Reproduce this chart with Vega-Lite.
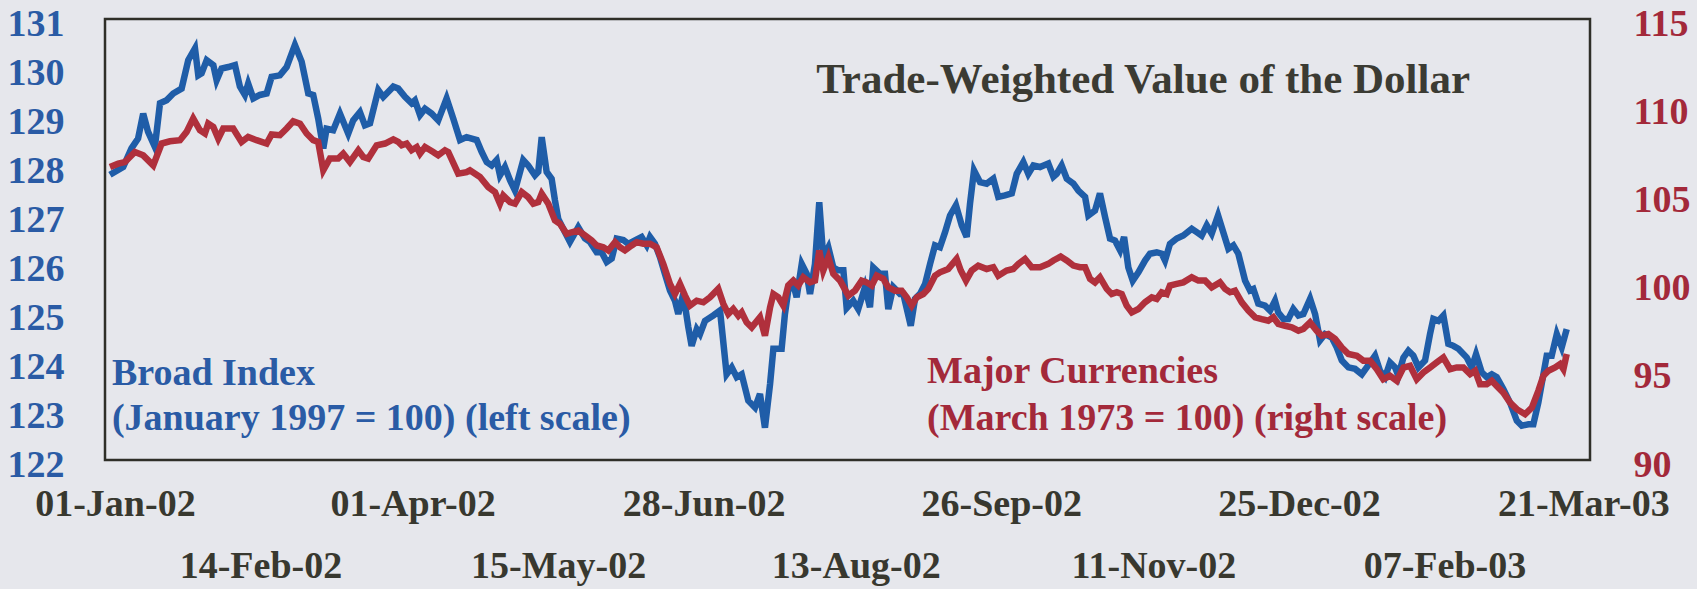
{
"$schema":"https://vega.github.io/schema/vega-lite/v6.json",
"width":1485,"height":441,
"autosize":{"type":"none"},
"padding":{"left":105,"top":19,"right":107,"bottom":129},
"background":"#E6E7EC",
"config":{"view":{"stroke":"#2F2F28","strokeWidth":2.5,"fill":"#E6E7EC"},"axis":{"grid":false}},
"datasets":{
"broad":[
{"date":"2001-12-30T12:00","value":127.82},{"date":"2002-01-03T12:00","value":127.98},{"date":"2002-01-06T00:00","value":128.36},{"date":"2002-01-08T00:00","value":128.56},{"date":"2002-01-09T13:00","value":129.07},{"date":"2002-01-11T00:00","value":128.70},{"date":"2002-01-13T02:00","value":128.39},{"date":"2002-01-14T15:00","value":129.28},{"date":"2002-01-16T15:00","value":129.34},{"date":"2002-01-18T15:00","value":129.48},{"date":"2002-01-21T04:00","value":129.58},{"date":"2002-01-23T04:00","value":130.16},{"date":"2002-01-25T05:00","value":130.40},{"date":"2002-01-26T05:00","value":129.85},{"date":"2002-01-27T05:00","value":129.89},{"date":"2002-01-28T18:00","value":130.16},{"date":"2002-01-30T18:00","value":130.06},{"date":"2002-01-31T18:00","value":129.75},{"date":"2002-02-02T06:00","value":129.99},{"date":"2002-02-04T06:00","value":130.02},{"date":"2002-02-06T07:00","value":130.06},{"date":"2002-02-07T19:00","value":129.62},{"date":"2002-02-09T07:00","value":129.45},{"date":"2002-02-10T07:00","value":129.68},{"date":"2002-02-11T20:00","value":129.38},{"date":"2002-02-13T20:00","value":129.45},{"date":"2002-02-15T21:00","value":129.48},{"date":"2002-02-17T09:00","value":129.82},{"date":"2002-02-19T21:00","value":129.85},{"date":"2002-02-21T22:00","value":130.02},{"date":"2002-02-24T10:00","value":130.47},{"date":"2002-02-26T11:00","value":130.13},{"date":"2002-02-28T11:00","value":129.48},{"date":"2002-03-01T23:00","value":129.45},{"date":"2002-03-03T11:00","value":128.97},{"date":"2002-03-05T00:00","value":128.36},{"date":"2002-03-06T00:00","value":128.76},{"date":"2002-03-08T00:00","value":128.73},{"date":"2002-03-10T01:00","value":129.07},{"date":"2002-03-12T13:00","value":128.66},{"date":"2002-03-14T01:00","value":128.93},{"date":"2002-03-16T02:00","value":129.10},{"date":"2002-03-17T14:00","value":128.83},{"date":"2002-03-19T03:00","value":128.87},{"date":"2002-03-21T15:00","value":129.55},{"date":"2002-03-23T03:00","value":129.41},{"date":"2002-03-26T04:00","value":129.62},{"date":"2002-03-27T16:00","value":129.58},{"date":"2002-03-29T17:00","value":129.41},{"date":"2002-03-31T17:00","value":129.28},{"date":"2002-04-01T17:00","value":129.34},{"date":"2002-04-03T06:00","value":129.04},{"date":"2002-04-04T18:00","value":129.17},{"date":"2002-04-06T18:00","value":129.07},{"date":"2002-04-08T18:00","value":128.93},{"date":"2002-04-11T07:00","value":129.38},{"date":"2002-04-13T07:00","value":128.97},{"date":"2002-04-15T08:00","value":128.53},{"date":"2002-04-17T08:00","value":128.59},{"date":"2002-04-20T09:00","value":128.53},{"date":"2002-04-21T21:00","value":128.29},{"date":"2002-04-23T10:00","value":128.08},{"date":"2002-04-24T22:00","value":128.01},{"date":"2002-04-26T10:00","value":128.12},{"date":"2002-04-27T10:00","value":127.81},{"date":"2002-04-28T22:00","value":127.98},{"date":"2002-04-30T11:00","value":127.71},{"date":"2002-05-01T23:00","value":127.50},{"date":"2002-05-04T11:00","value":128.12},{"date":"2002-05-05T23:00","value":128.01},{"date":"2002-05-08T00:00","value":127.81},{"date":"2002-05-09T00:00","value":127.88},{"date":"2002-05-10T01:00","value":128.59},{"date":"2002-05-11T13:00","value":127.88},{"date":"2002-05-13T01:00","value":127.74},{"date":"2002-05-14T01:00","value":127.30},{"date":"2002-05-15T01:00","value":126.92},{"date":"2002-05-17T02:00","value":126.65},{"date":"2002-05-18T14:00","value":126.45},{"date":"2002-05-21T02:00","value":126.75},{"date":"2002-05-23T03:00","value":126.52},{"date":"2002-05-24T15:00","value":126.45},{"date":"2002-05-26T16:00","value":126.24},{"date":"2002-05-28T04:00","value":126.24},{"date":"2002-05-29T17:00","value":126.04},{"date":"2002-05-31T05:00","value":126.11},{"date":"2002-06-01T17:00","value":126.52},{"date":"2002-06-03T17:00","value":126.49},{"date":"2002-06-05T05:00","value":126.41},{"date":"2002-06-07T06:00","value":126.48},{"date":"2002-06-09T06:00","value":126.55},{"date":"2002-06-10T19:00","value":126.38},{"date":"2002-06-11T19:00","value":126.55},{"date":"2002-06-13T07:00","value":126.41},{"date":"2002-06-14T19:00","value":126.14},{"date":"2002-06-16T07:00","value":125.80},{"date":"2002-06-17T20:00","value":125.46},{"date":"2002-06-19T08:00","value":125.25},{"date":"2002-06-20T08:00","value":124.98},{"date":"2002-06-21T20:00","value":125.39},{"date":"2002-06-23T09:00","value":124.71},{"date":"2002-06-24T09:00","value":124.33},{"date":"2002-06-25T22:00","value":124.67},{"date":"2002-06-26T22:00","value":124.57},{"date":"2002-06-28T10:00","value":124.84},{"date":"2002-06-30T22:00","value":124.95},{"date":"2002-07-02T23:00","value":125.05},{"date":"2002-07-04T23:00","value":123.75},{"date":"2002-07-06T12:00","value":123.89},{"date":"2002-07-08T00:00","value":123.69},{"date":"2002-07-09T12:00","value":123.75},{"date":"2002-07-11T12:00","value":123.21},{"date":"2002-07-13T13:00","value":123.07},{"date":"2002-07-15T01:00","value":123.35},{"date":"2002-07-16T13:00","value":122.66},{"date":"2002-07-18T02:00","value":123.55},{"date":"2002-07-19T02:00","value":124.27},{"date":"2002-07-21T14:00","value":124.27},{"date":"2002-07-22T14:00","value":124.98},{"date":"2002-07-23T14:00","value":125.46},{"date":"2002-07-25T03:00","value":125.59},{"date":"2002-07-26T03:00","value":125.32},{"date":"2002-07-27T16:00","value":126.00},{"date":"2002-07-29T04:00","value":125.80},{"date":"2002-07-30T04:00","value":125.39},{"date":"2002-07-31T16:00","value":126.00},{"date":"2002-08-01T23:00","value":127.26},{"date":"2002-08-03T04:00","value":126.14},{"date":"2002-08-04T17:00","value":126.34},{"date":"2002-08-06T05:00","value":125.93},{"date":"2002-08-07T17:00","value":125.87},{"date":"2002-08-09T06:00","value":125.87},{"date":"2002-08-10T06:00","value":125.10},{"date":"2002-08-12T06:00","value":125.25},{"date":"2002-08-13T18:00","value":125.08},{"date":"2002-08-15T19:00","value":125.53},{"date":"2002-08-17T07:00","value":125.12},{"date":"2002-08-18T07:00","value":125.93},{"date":"2002-08-20T08:00","value":125.80},{"date":"2002-08-21T20:00","value":125.80},{"date":"2002-08-22T20:00","value":125.08},{"date":"2002-08-24T08:00","value":125.53},{"date":"2002-08-26T09:00","value":125.39},{"date":"2002-08-27T09:00","value":125.39},{"date":"2002-08-29T15:00","value":124.74},{"date":"2002-08-30T22:00","value":125.29},{"date":"2002-09-01T10:00","value":125.39},{"date":"2002-09-02T23:00","value":125.59},{"date":"2002-09-04T11:00","value":126.00},{"date":"2002-09-05T23:00","value":126.38},{"date":"2002-09-07T11:00","value":126.34},{"date":"2002-09-09T00:00","value":126.65},{"date":"2002-09-10T12:00","value":126.99},{"date":"2002-09-12T07:00","value":127.20},{"date":"2002-09-14T01:00","value":126.79},{"date":"2002-09-15T13:00","value":126.55},{"date":"2002-09-16T13:00","value":127.23},{"date":"2002-09-17T18:00","value":127.91},{"date":"2002-09-19T14:00","value":127.67},{"date":"2002-09-21T14:00","value":127.64},{"date":"2002-09-23T14:00","value":127.74},{"date":"2002-09-25T02:00","value":127.37},{"date":"2002-09-27T03:00","value":127.40},{"date":"2002-09-29T04:00","value":127.44},{"date":"2002-09-30T16:00","value":127.84},{"date":"2002-10-02T16:00","value":128.08},{"date":"2002-10-04T04:00","value":127.84},{"date":"2002-10-05T17:00","value":128.01},{"date":"2002-10-07T17:00","value":127.98},{"date":"2002-10-10T05:00","value":128.05},{"date":"2002-10-11T18:00","value":127.78},{"date":"2002-10-12T18:00","value":127.84},{"date":"2002-10-14T06:00","value":128.01},{"date":"2002-10-15T19:00","value":127.74},{"date":"2002-10-17T19:00","value":127.64},{"date":"2002-10-19T07:00","value":127.50},{"date":"2002-10-21T08:00","value":127.37},{"date":"2002-10-22T08:00","value":126.99},{"date":"2002-10-24T08:00","value":127.09},{"date":"2002-10-25T20:00","value":127.44},{"date":"2002-10-27T09:00","value":126.96},{"date":"2002-10-28T21:00","value":126.52},{"date":"2002-10-30T09:00","value":126.48},{"date":"2002-10-31T22:00","value":126.28},{"date":"2002-11-02T03:00","value":126.55},{"date":"2002-11-03T10:00","value":125.93},{"date":"2002-11-04T18:00","value":125.66},{"date":"2002-11-06T11:00","value":125.83},{"date":"2002-11-08T11:00","value":126.07},{"date":"2002-11-09T23:00","value":126.21},{"date":"2002-11-12T00:00","value":126.24},{"date":"2002-11-13T12:00","value":126.21},{"date":"2002-11-14T12:00","value":126.07},{"date":"2002-11-16T00:00","value":126.41},{"date":"2002-11-18T01:00","value":126.52},{"date":"2002-11-20T01:00","value":126.58},{"date":"2002-11-22T14:00","value":126.72},{"date":"2002-11-24T02:00","value":126.65},{"date":"2002-11-25T14:00","value":126.58},{"date":"2002-11-27T03:00","value":126.79},{"date":"2002-11-28T15:00","value":126.62},{"date":"2002-11-30T13:00","value":126.99},{"date":"2002-12-03T16:00","value":126.31},{"date":"2002-12-05T04:00","value":126.38},{"date":"2002-12-06T16:00","value":126.21},{"date":"2002-12-08T17:00","value":125.66},{"date":"2002-12-10T05:00","value":125.46},{"date":"2002-12-11T05:00","value":125.49},{"date":"2002-12-12T17:00","value":125.19},{"date":"2002-12-14T18:00","value":125.15},{"date":"2002-12-16T06:00","value":125.05},{"date":"2002-12-17T18:00","value":125.25},{"date":"2002-12-18T18:00","value":125.01},{"date":"2002-12-20T07:00","value":124.88},{"date":"2002-12-21T19:00","value":124.88},{"date":"2002-12-23T07:00","value":125.08},{"date":"2002-12-24T20:00","value":124.95},{"date":"2002-12-26T08:00","value":124.98},{"date":"2002-12-28T09:00","value":125.29},{"date":"2002-12-29T21:00","value":124.98},{"date":"2002-12-31T09:00","value":124.44},{"date":"2003-01-01T21:00","value":124.57},{"date":"2003-01-03T22:00","value":124.50},{"date":"2003-01-05T10:00","value":124.30},{"date":"2003-01-06T23:00","value":124.03},{"date":"2003-01-08T23:00","value":123.89},{"date":"2003-01-10T23:00","value":123.86},{"date":"2003-01-13T00:00","value":123.75},{"date":"2003-01-14T12:00","value":123.89},{"date":"2003-01-17T00:00","value":124.13},{"date":"2003-01-18T12:00","value":123.82},{"date":"2003-01-20T01:00","value":123.69},{"date":"2003-01-21T13:00","value":123.99},{"date":"2003-01-23T01:00","value":123.89},{"date":"2003-01-24T01:00","value":123.72},{"date":"2003-01-25T14:00","value":124.09},{"date":"2003-01-27T02:00","value":124.23},{"date":"2003-01-28T14:00","value":124.13},{"date":"2003-01-30T03:00","value":123.89},{"date":"2003-02-01T03:00","value":124.03},{"date":"2003-02-02T15:00","value":124.57},{"date":"2003-02-03T15:00","value":124.88},{"date":"2003-02-05T04:00","value":124.84},{"date":"2003-02-06T16:00","value":124.95},{"date":"2003-02-08T04:00","value":124.37},{"date":"2003-02-09T17:00","value":124.33},{"date":"2003-02-11T05:00","value":124.27},{"date":"2003-02-13T18:00","value":124.09},{"date":"2003-02-15T06:00","value":123.89},{"date":"2003-02-16T13:00","value":124.16},{"date":"2003-02-18T06:00","value":123.79},{"date":"2003-02-19T19:00","value":123.69},{"date":"2003-02-21T07:00","value":123.75},{"date":"2003-02-22T19:00","value":123.69},{"date":"2003-02-24T19:00","value":123.45},{"date":"2003-02-26T20:00","value":123.17},{"date":"2003-02-28T21:00","value":122.80},{"date":"2003-03-02T09:00","value":122.70},{"date":"2003-03-04T09:00","value":122.73},{"date":"2003-03-05T21:00","value":122.73},{"date":"2003-03-07T09:00","value":123.17},{"date":"2003-03-08T22:00","value":123.75},{"date":"2003-03-09T22:00","value":124.13},{"date":"2003-03-11T10:00","value":124.13},{"date":"2003-03-12T23:00","value":124.57},{"date":"2003-03-14T11:00","value":124.30},{"date":"2003-03-15T23:00","value":124.67}
],
"major":[
{"date":"2001-12-30T12:00","value":106.61},{"date":"2002-01-02T00:00","value":106.80},{"date":"2002-01-04T00:00","value":106.89},{"date":"2002-01-07T01:00","value":107.46},{"date":"2002-01-09T13:00","value":107.27},{"date":"2002-01-12T14:00","value":106.70},{"date":"2002-01-15T03:00","value":107.94},{"date":"2002-01-17T15:00","value":108.07},{"date":"2002-01-20T16:00","value":108.13},{"date":"2002-01-22T16:00","value":108.60},{"date":"2002-01-24T16:00","value":109.36},{"date":"2002-01-26T17:00","value":108.69},{"date":"2002-01-28T05:00","value":108.51},{"date":"2002-01-29T05:00","value":109.07},{"date":"2002-01-30T18:00","value":108.88},{"date":"2002-02-01T06:00","value":108.22},{"date":"2002-02-02T18:00","value":108.79},{"date":"2002-02-05T18:00","value":108.79},{"date":"2002-02-08T07:00","value":108.03},{"date":"2002-02-10T07:00","value":108.31},{"date":"2002-02-12T20:00","value":108.13},{"date":"2002-02-15T21:00","value":107.94},{"date":"2002-02-17T09:00","value":108.45},{"date":"2002-02-19T21:00","value":108.41},{"date":"2002-02-21T22:00","value":108.79},{"date":"2002-02-23T22:00","value":109.20},{"date":"2002-02-25T23:00","value":109.07},{"date":"2002-02-27T23:00","value":108.51},{"date":"2002-03-01T23:00","value":108.13},{"date":"2002-03-03T11:00","value":108.03},{"date":"2002-03-05T00:00","value":106.42},{"date":"2002-03-07T00:00","value":107.09},{"date":"2002-03-09T12:00","value":107.09},{"date":"2002-03-11T01:00","value":107.37},{"date":"2002-03-13T01:00","value":106.89},{"date":"2002-03-15T14:00","value":107.56},{"date":"2002-03-17T02:00","value":107.18},{"date":"2002-03-18T14:00","value":107.09},{"date":"2002-03-21T03:00","value":107.84},{"date":"2002-03-23T16:00","value":107.94},{"date":"2002-03-26T04:00","value":108.18},{"date":"2002-03-27T16:00","value":108.03},{"date":"2002-03-28T17:00","value":107.84},{"date":"2002-03-30T05:00","value":107.94},{"date":"2002-03-31T17:00","value":107.56},{"date":"2002-04-02T06:00","value":107.74},{"date":"2002-04-03T06:00","value":107.37},{"date":"2002-04-04T18:00","value":107.74},{"date":"2002-04-07T06:00","value":107.46},{"date":"2002-04-08T18:00","value":107.27},{"date":"2002-04-10T19:00","value":107.56},{"date":"2002-04-11T19:00","value":107.46},{"date":"2002-04-14T19:00","value":106.23},{"date":"2002-04-17T08:00","value":106.32},{"date":"2002-04-18T08:00","value":106.42},{"date":"2002-04-21T09:00","value":106.04},{"date":"2002-04-23T21:00","value":105.47},{"date":"2002-04-25T22:00","value":105.19},{"date":"2002-04-27T10:00","value":104.53},{"date":"2002-04-28T10:00","value":105.00},{"date":"2002-04-30T11:00","value":104.62},{"date":"2002-05-01T23:00","value":104.53},{"date":"2002-05-04T00:00","value":105.19},{"date":"2002-05-05T23:00","value":104.90},{"date":"2002-05-07T12:00","value":104.53},{"date":"2002-05-09T00:00","value":104.62},{"date":"2002-05-10T01:00","value":105.10},{"date":"2002-05-12T01:00","value":104.53},{"date":"2002-05-14T01:00","value":103.58},{"date":"2002-05-15T13:00","value":103.39},{"date":"2002-05-17T14:00","value":102.82},{"date":"2002-05-19T02:00","value":102.91},{"date":"2002-05-21T02:00","value":103.01},{"date":"2002-05-23T03:00","value":102.73},{"date":"2002-05-25T04:00","value":102.44},{"date":"2002-05-26T16:00","value":102.16},{"date":"2002-05-28T16:00","value":102.06},{"date":"2002-05-30T04:00","value":101.88},{"date":"2002-06-01T05:00","value":102.35},{"date":"2002-06-02T17:00","value":102.06},{"date":"2002-06-04T05:00","value":101.88},{"date":"2002-06-06T06:00","value":102.16},{"date":"2002-06-07T18:00","value":102.35},{"date":"2002-06-09T18:00","value":102.26},{"date":"2002-06-11T19:00","value":102.26},{"date":"2002-06-13T19:00","value":102.06},{"date":"2002-06-15T19:00","value":101.12},{"date":"2002-06-17T20:00","value":99.98},{"date":"2002-06-19T08:00","value":99.41},{"date":"2002-06-20T20:00","value":99.98},{"date":"2002-06-22T09:00","value":99.32},{"date":"2002-06-23T21:00","value":98.75},{"date":"2002-06-25T22:00","value":99.03},{"date":"2002-06-27T22:00","value":98.94},{"date":"2002-06-29T22:00","value":99.22},{"date":"2002-07-02T10:00","value":99.70},{"date":"2002-07-03T23:00","value":98.85},{"date":"2002-07-05T11:00","value":98.28},{"date":"2002-07-06T23:00","value":98.56},{"date":"2002-07-08T12:00","value":98.18},{"date":"2002-07-09T12:00","value":98.37},{"date":"2002-07-11T00:00","value":97.80},{"date":"2002-07-12T13:00","value":97.52},{"date":"2002-07-15T01:00","value":98.09},{"date":"2002-07-16T13:00","value":97.05},{"date":"2002-07-18T02:00","value":98.65},{"date":"2002-07-19T02:00","value":99.41},{"date":"2002-07-20T14:00","value":99.22},{"date":"2002-07-22T02:00","value":98.75},{"date":"2002-07-23T14:00","value":99.89},{"date":"2002-07-25T03:00","value":100.17},{"date":"2002-07-26T15:00","value":99.89},{"date":"2002-07-28T03:00","value":100.36},{"date":"2002-07-30T04:00","value":100.07},{"date":"2002-07-31T16:00","value":100.17},{"date":"2002-08-01T23:00","value":101.88},{"date":"2002-08-03T04:00","value":100.74},{"date":"2002-08-04T17:00","value":101.49},{"date":"2002-08-06T05:00","value":100.55},{"date":"2002-08-08T06:00","value":100.17},{"date":"2002-08-10T18:00","value":99.32},{"date":"2002-08-12T18:00","value":99.60},{"date":"2002-08-14T19:00","value":100.17},{"date":"2002-08-16T07:00","value":100.07},{"date":"2002-08-17T20:00","value":99.89},{"date":"2002-08-19T08:00","value":100.45},{"date":"2002-08-21T08:00","value":100.27},{"date":"2002-08-22T20:00","value":99.79},{"date":"2002-08-24T21:00","value":99.60},{"date":"2002-08-26T21:00","value":99.60},{"date":"2002-08-28T10:00","value":99.22},{"date":"2002-08-29T22:00","value":98.75},{"date":"2002-08-31T10:00","value":99.22},{"date":"2002-09-02T10:00","value":99.41},{"date":"2002-09-03T22:00","value":99.70},{"date":"2002-09-05T23:00","value":100.45},{"date":"2002-09-07T11:00","value":100.64},{"date":"2002-09-09T23:00","value":100.83},{"date":"2002-09-12T12:00","value":101.40},{"date":"2002-09-13T18:00","value":100.74},{"date":"2002-09-15T08:00","value":100.17},{"date":"2002-09-17T01:00","value":100.74},{"date":"2002-09-19T01:00","value":101.02},{"date":"2002-09-21T14:00","value":100.83},{"date":"2002-09-23T14:00","value":100.93},{"date":"2002-09-25T02:00","value":100.45},{"date":"2002-09-27T15:00","value":100.74},{"date":"2002-09-29T15:00","value":100.83},{"date":"2002-10-01T04:00","value":101.12},{"date":"2002-10-03T04:00","value":101.40},{"date":"2002-10-05T05:00","value":100.93},{"date":"2002-10-07T17:00","value":100.93},{"date":"2002-10-10T05:00","value":101.12},{"date":"2002-10-11T18:00","value":101.31},{"date":"2002-10-13T23:00","value":101.53},{"date":"2002-10-15T19:00","value":101.31},{"date":"2002-10-17T19:00","value":101.02},{"date":"2002-10-19T19:00","value":100.93},{"date":"2002-10-21T08:00","value":100.93},{"date":"2002-10-22T20:00","value":100.27},{"date":"2002-10-24T08:00","value":100.07},{"date":"2002-10-25T20:00","value":100.36},{"date":"2002-10-27T21:00","value":99.70},{"date":"2002-10-29T09:00","value":99.41},{"date":"2002-10-30T22:00","value":99.51},{"date":"2002-11-01T10:00","value":99.41},{"date":"2002-11-02T22:00","value":98.75},{"date":"2002-11-04T11:00","value":98.37},{"date":"2002-11-06T11:00","value":98.56},{"date":"2002-11-08T11:00","value":98.94},{"date":"2002-11-10T12:00","value":99.22},{"date":"2002-11-12T00:00","value":99.13},{"date":"2002-11-13T12:00","value":99.51},{"date":"2002-11-15T00:00","value":99.41},{"date":"2002-11-16T00:00","value":99.89},{"date":"2002-11-18T01:00","value":99.98},{"date":"2002-11-20T01:00","value":100.07},{"date":"2002-11-22T14:00","value":100.36},{"date":"2002-11-24T14:00","value":100.17},{"date":"2002-11-26T15:00","value":100.17},{"date":"2002-11-28T15:00","value":99.79},{"date":"2002-12-01T03:00","value":100.07},{"date":"2002-12-02T16:00","value":99.70},{"date":"2002-12-04T04:00","value":99.51},{"date":"2002-12-05T16:00","value":99.60},{"date":"2002-12-07T17:00","value":98.94},{"date":"2002-12-09T17:00","value":98.47},{"date":"2002-12-11T18:00","value":98.09},{"date":"2002-12-13T18:00","value":97.99},{"date":"2002-12-15T18:00","value":97.90},{"date":"2002-12-17T06:00","value":98.09},{"date":"2002-12-18T18:00","value":97.71},{"date":"2002-12-20T19:00","value":97.61},{"date":"2002-12-22T20:00","value":97.52},{"date":"2002-12-24T20:00","value":97.33},{"date":"2002-12-26T08:00","value":97.43},{"date":"2002-12-28T09:00","value":97.80},{"date":"2002-12-30T09:00","value":97.33},{"date":"2002-12-31T22:00","value":97.05},{"date":"2003-01-02T21:00","value":97.14},{"date":"2003-01-04T22:00","value":96.86},{"date":"2003-01-06T23:00","value":96.38},{"date":"2003-01-08T23:00","value":96.01},{"date":"2003-01-11T12:00","value":95.91},{"date":"2003-01-13T11:00","value":95.63},{"date":"2003-01-15T12:00","value":95.63},{"date":"2003-01-17T13:00","value":95.15},{"date":"2003-01-19T12:00","value":94.58},{"date":"2003-01-21T13:00","value":94.77},{"date":"2003-01-23T14:00","value":94.49},{"date":"2003-01-25T14:00","value":95.24},{"date":"2003-01-27T14:00","value":95.34},{"date":"2003-01-29T15:00","value":94.58},{"date":"2003-01-31T15:00","value":94.96},{"date":"2003-02-02T15:00","value":95.24},{"date":"2003-02-04T16:00","value":95.53},{"date":"2003-02-06T16:00","value":95.81},{"date":"2003-02-08T17:00","value":95.15},{"date":"2003-02-10T17:00","value":95.25},{"date":"2003-02-12T17:00","value":95.25},{"date":"2003-02-14T18:00","value":94.87},{"date":"2003-02-16T06:00","value":95.06},{"date":"2003-02-17T18:00","value":94.30},{"date":"2003-02-19T19:00","value":94.30},{"date":"2003-02-21T07:00","value":94.49},{"date":"2003-02-22T19:00","value":94.20},{"date":"2003-02-24T19:00","value":93.82},{"date":"2003-02-26T20:00","value":93.25},{"date":"2003-02-28T21:00","value":92.88},{"date":"2003-03-03T09:00","value":92.60},{"date":"2003-03-05T10:00","value":92.97},{"date":"2003-03-07T09:00","value":93.92},{"date":"2003-03-08T22:00","value":94.77},{"date":"2003-03-10T10:00","value":95.06},{"date":"2003-03-12T11:00","value":95.25},{"date":"2003-03-13T23:00","value":95.44},{"date":"2003-03-14T23:00","value":95.15},{"date":"2003-03-15T23:00","value":96.01}
],
"titleNote":[{"date":"2002-08-01T02:00","value":129.48,"text":"Trade-Weighted Value of the Dollar"}],
"broadNote":[{"date":"2001-12-31T02:00","value":123.53,"text":"Broad Index"},{"date":"2001-12-31T02:00","value":122.61,"text":"(January 1997 = 100) (left scale)"}],
"majorNote":[{"date":"2002-09-03T13:00","value":123.57,"text":"Major Currencies"},{"date":"2002-09-03T13:00","value":122.61,"text":"(March 1973 = 100) (right scale)"}]
},
"layer":[
{"data":{"name":"broad"},
 "mark":{"type":"line","color":"#1F5DA8","strokeWidth":6.5},
 "encoding":{
  "x":{"field":"date","type":"temporal","scale":{"domain":[{"year":2001,"month":12,"date":29},{"year":2003,"month":3,"date":23}]},
   "axis":{"orient":"bottom","title":null,"values":[{"year":2002,"month":1,"date":1},{"year":2002,"month":4,"date":1},{"year":2002,"month":6,"date":28},{"year":2002,"month":9,"date":26},{"year":2002,"month":12,"date":25},{"year":2003,"month":3,"date":21}],
    "format":"%d-%b-%y","labelFont":"Liberation Serif","labelFontWeight":"bold","labelFontSize":38,"labelColor":"#38382F","ticks":false,"tickSize":0,"domain":false,"grid":false,"labelPadding":55,"labelBaseline":"alphabetic","labelFlush":false,"labelOverlap":false}},
  "y":{"field":"value","type":"quantitative","scale":{"domain":[122,131],"nice":false,"zero":false},
   "axis":{"orient":"left","title":null,"values":[122,123,124,125,126,127,128,129,130,131],"labelFont":"Liberation Serif","labelFontWeight":"bold","labelFontSize":38,"labelColor":"#2A5BA5","ticks":false,"tickSize":0,"domain":false,"grid":false,"labelPadding":41,"labelOffset":5}}}},
{"data":{"name":"major"},
 "mark":{"type":"line","color":"#B0303C","strokeWidth":6.5},
 "encoding":{
  "x":{"field":"date","type":"temporal","scale":{"domain":[{"year":2001,"month":12,"date":29},{"year":2003,"month":3,"date":23}]},
   "axis":{"orient":"bottom","title":null,"values":[{"year":2002,"month":2,"date":14},{"year":2002,"month":5,"date":15},{"year":2002,"month":8,"date":13},{"year":2002,"month":11,"date":11},{"year":2003,"month":2,"date":7}],
    "format":"%d-%b-%y","labelFont":"Liberation Serif","labelFontWeight":"bold","labelFontSize":38,"labelColor":"#38382F","ticks":false,"tickSize":0,"domain":false,"grid":false,"labelPadding":117,"labelBaseline":"alphabetic","labelFlush":false,"labelOverlap":false}},
  "y":{"field":"value","type":"quantitative","scale":{"domain":[90,115],"nice":false,"zero":false},
   "axis":{"orient":"right","title":null,"values":[90,95,100,105,110,115],"labelFont":"Liberation Serif","labelFontWeight":"bold","labelFontSize":38,"labelColor":"#A3293A","ticks":false,"tickSize":0,"domain":false,"grid":false,"labelPadding":43,"labelOffset":5}}}},
{"data":{"name":"titleNote"},
 "mark":{"type":"text","align":"left","baseline":"alphabetic","font":"Liberation Serif","fontWeight":"bold","fontSize":43,"color":"#3B3B33"},
 "encoding":{
  "x":{"field":"date","type":"temporal","scale":{"domain":[{"year":2001,"month":12,"date":29},{"year":2003,"month":3,"date":23}]},"axis":null},
  "y":{"field":"value","type":"quantitative","scale":{"domain":[122,131],"nice":false,"zero":false},"axis":null},
  "text":{"field":"text"}}},
{"data":{"name":"broadNote"},
 "mark":{"type":"text","align":"left","baseline":"alphabetic","font":"Liberation Serif","fontWeight":"bold","fontSize":38,"color":"#2A5BA5"},
 "encoding":{
  "x":{"field":"date","type":"temporal","scale":{"domain":[{"year":2001,"month":12,"date":29},{"year":2003,"month":3,"date":23}]},"axis":null},
  "y":{"field":"value","type":"quantitative","scale":{"domain":[122,131],"nice":false,"zero":false},"axis":null},
  "text":{"field":"text"}}},
{"data":{"name":"majorNote"},
 "mark":{"type":"text","align":"left","baseline":"alphabetic","font":"Liberation Serif","fontWeight":"bold","fontSize":38,"color":"#A3293A"},
 "encoding":{
  "x":{"field":"date","type":"temporal","scale":{"domain":[{"year":2001,"month":12,"date":29},{"year":2003,"month":3,"date":23}]},"axis":null},
  "y":{"field":"value","type":"quantitative","scale":{"domain":[122,131],"nice":false,"zero":false},"axis":null},
  "text":{"field":"text"}}}
],
"resolve":{"scale":{"y":"independent"},"axis":{"x":"independent","y":"independent"}}
}
